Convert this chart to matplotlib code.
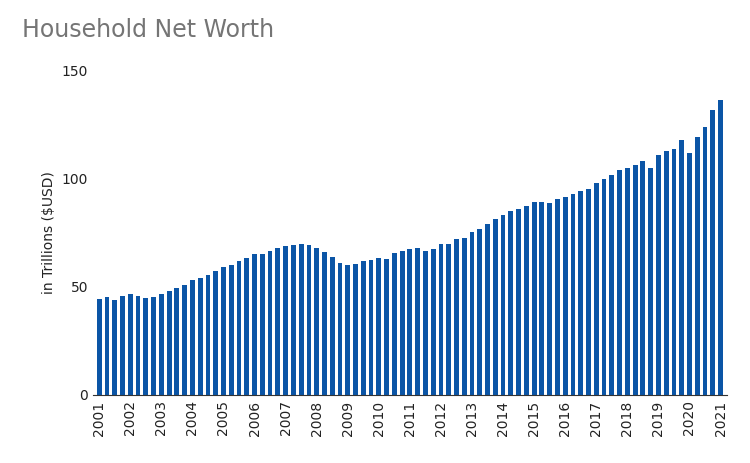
import matplotlib
matplotlib.use("Agg")
import matplotlib.pyplot as plt
import numpy as np

years = list(range(2001, 2022))
net_worth = [
    44.5, 45.5, 44, 46,
    46.5, 46, 45, 45.5,
    46.5, 48, 49.5, 51,
    53, 54, 55.5, 57.5,
    59, 60, 62, 63.5,
    65, 65, 66.5, 68,
    69, 69.5, 70, 69.5,
    68, 66, 64, 61,
    60, 60.5, 62, 62.5,
    63.5, 63, 65.5, 66.5,
    67.5, 68, 66.5, 67.5,
    70, 70, 72, 72.5,
    75.5, 77, 79, 81.5,
    83.5, 85, 86, 87.5,
    89.5, 89.5, 89, 90.5,
    91.5, 93, 94.5, 95.5,
    98, 100, 102, 104,
    105, 106.5, 108.5, 105,
    111, 113, 114, 118,
    112, 119.5, 124, 132,
    136.5,
]

fig = plt.figure(figsize=(7.5, 4.63), dpi=100)
ax = fig.add_axes([0.124, 0.147, 0.845, 0.70])
x = np.arange(len(net_worth))
ax.bar(x, net_worth, width=0.62, color="#0b55a6")
ax.set_xlim(-0.8, len(net_worth) - 0.2)
ax.set_ylim(0, 150)
ax.set_yticks([0, 50, 100, 150])
ax.set_xticks(x[::4])
ax.set_xticklabels([str(y) for y in years], rotation=90, fontsize=10)
ax.tick_params(axis="y", length=0, labelsize=10, colors="#222222")
ax.tick_params(axis="x", length=0, pad=4, colors="#222222")
for s in ["top", "right", "left"]:
    ax.spines[s].set_visible(False)
ax.spines["bottom"].set_color("#333333")
ax.set_ylabel("in Trillions ($USD)", fontsize=10, color="#222222")
fig.text(0.03, 0.92, "Household Net Worth", fontsize=17, color="#757575")

plt.savefig("out.png", dpi=100)
